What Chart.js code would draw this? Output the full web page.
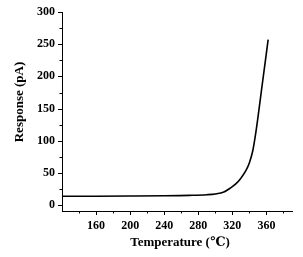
<html>

<head>
  <meta charset="utf-8">
  <title>Response vs Temperature</title>
  <style>
    html,
    body {
      padding: 0;
      margin: 0;
      background: #fff;
    }
  </style>
  <script src="https://cdn.jsdelivr.net/npm/chart.js@4.4.1/dist/chart.umd.min.js"></script>
</head>

<body>
  <canvas id="chart" width="303" height="257"></canvas>

  <script>
    // data
    var temperature = [120, 160, 200, 240, 270, 290, 300, 310, 318, 324, 330, 336, 340, 344, 348, 355, 362];
    var response = [14, 14, 14.2, 14.6, 15.3, 16.3, 17.5, 20.5, 27, 33, 42, 54, 66, 85, 117, 187, 257];

    var xTickLabels = [160, 200, 240, 280, 320, 360];
    var xMinorTicks = [140, 180, 220, 260, 300, 340, 380];
    var yTickLabels = [0, 50, 100, 150, 200, 250, 300];
    var yMinorTicks = [25, 75, 125, 175, 225, 275];

    var serif = "'Liberation Serif', 'DejaVu Serif', serif";

    // tick marks (major + minor) and axis titles
    var axisDecor = {
      id: 'axisDecor',
      afterDraw: function (chart) {
        var ctx = chart.ctx;
        var xs = chart.scales.x, ys = chart.scales.y;
        var area = chart.chartArea;
        ctx.save();
        ctx.strokeStyle = '#000';
        ctx.lineWidth = 1;
        ctx.beginPath();
        xTickLabels.forEach(function (v) {
          var px = Math.round(xs.getPixelForValue(v)) + 0.5;
          ctx.moveTo(px, area.bottom); ctx.lineTo(px, area.bottom + 4);
        });
        xMinorTicks.forEach(function (v) {
          var px = Math.round(xs.getPixelForValue(v)) + 0.5;
          ctx.moveTo(px, area.bottom); ctx.lineTo(px, area.bottom + 2.5);
        });
        yTickLabels.forEach(function (v) {
          var py = Math.round(ys.getPixelForValue(v)) + 0.5;
          ctx.moveTo(area.left, py); ctx.lineTo(area.left - 4, py);
        });
        yMinorTicks.forEach(function (v) {
          var py = Math.round(ys.getPixelForValue(v)) + 0.5;
          ctx.moveTo(area.left, py); ctx.lineTo(area.left - 2.5, py);
        });
        ctx.stroke();

        ctx.fillStyle = '#000';
        ctx.font = 'bold 13px ' + serif;
        ctx.textAlign = 'center';
        ctx.textBaseline = 'middle';
        ctx.fillText('Temperature (\u2103)', 180, 243);
        ctx.translate(20, 102);
        ctx.rotate(-Math.PI / 2);
        ctx.fillText('Response (pA)', 0, 0);
        ctx.restore();
      }
    };

    var ctx = document.getElementById('chart').getContext('2d');
    var chart = new Chart(ctx, {
      type: 'line',
      data: {
        datasets: [{
          data: temperature.map(function (t, i) { return { x: t, y: response[i] }; }),
          borderColor: '#000',
          borderWidth: 1.6,
          pointRadius: 0,
          cubicInterpolationMode: 'monotone',
          fill: false
        }]
      },
      options: {
        responsive: false,
        maintainAspectRatio: false,
        devicePixelRatio: 1,
        animation: false,
        layout: { padding: { left: 0, top: 12, right: 11, bottom: 0 } },
        plugins: {
          legend: { display: false },
          tooltip: { enabled: false }
        },
        scales: {
          x: {
            type: 'linear',
            min: 120,
            max: 390,
            afterBuildTicks: function (scale) {
              scale.ticks = xTickLabels.map(function (v) { return { value: v }; });
            },
            afterFit: function (scale) { scale.height = 46; },
            border: { display: true, color: '#000', width: 1 },
            grid: { display: true, drawOnChartArea: false, drawTicks: true, tickLength: 4, tickColor: 'rgba(0,0,0,0)' },
            ticks: {
              color: '#000',
              padding: 4,
              maxRotation: 0,
              autoSkip: false,
              font: { family: serif, size: 12, weight: 'bold' }
            }
          },
          y: {
            min: -9,
            max: 300,
            afterBuildTicks: function (scale) {
              scale.ticks = yTickLabels.map(function (v) { return { value: v }; });
            },
            afterFit: function (scale) { scale.width = 62; },
            border: { display: true, color: '#000', width: 1 },
            grid: { display: true, drawOnChartArea: false, drawTicks: true, tickLength: 4, tickColor: 'rgba(0,0,0,0)' },
            ticks: {
              color: '#000',
              padding: 3,
              autoSkip: false,
              font: { family: serif, size: 12, weight: 'bold' }
            }
          }
        }
      },
      plugins: [axisDecor]
    });
  </script>
</body>

</html>
